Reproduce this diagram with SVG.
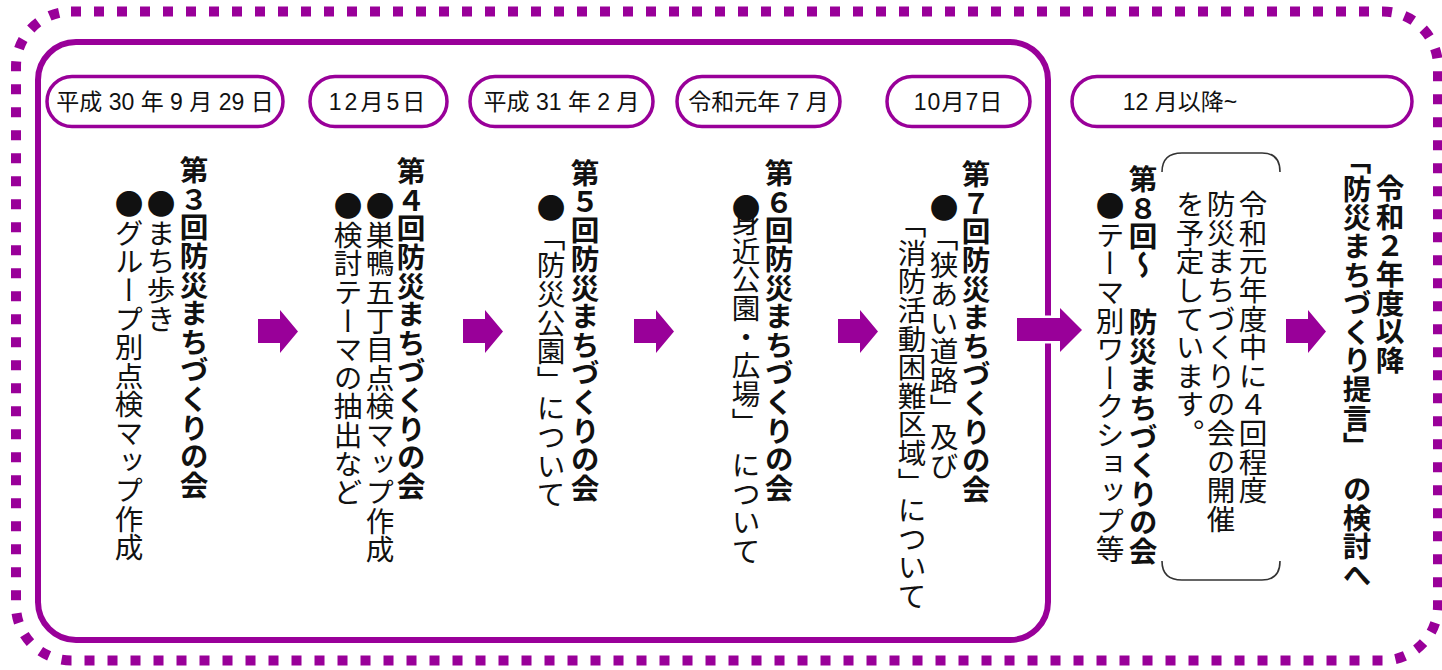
<svg xmlns="http://www.w3.org/2000/svg" width="1442" height="670" viewBox="0 0 1442 670">
<style>
.frame{fill:none;stroke:#990099}
.pill{fill:#fff;stroke:#990099;stroke-width:3.5}
.date{font-family:"Liberation Sans","Noto Sans CJK JP",sans-serif;font-size:23px;fill:#111;text-anchor:middle}
.v{font-family:"Noto Sans CJK JP",sans-serif;font-size:28.6px;fill:#111;writing-mode:vertical-rl}
.b{font-weight:bold}
.arrow{fill:#990099}
.brk{fill:none;stroke:#333;stroke-width:1.6}
</style>
<rect class="frame" x="16" y="11.5" width="1422" height="649" rx="55" stroke-width="10" stroke-dasharray="10 13"/>
<rect class="frame" x="38" y="42" width="1010" height="598" rx="38" stroke-width="6"/>
<g id="connectors">
<path class="arrow" d="M258,319 H280 V310 L298,331.5 L280,353 V343 H258 Z"/>
<path class="arrow" d="M463,319 H485 V310 L503,331.5 L485,353 V343 H463 Z"/>
<path class="arrow" d="M634,319 H656 V310 L674,331.5 L656,353 V343 H634 Z"/>
<path class="arrow" d="M838,319 H860 V310 L878,331.5 L860,353 V343 H838 Z"/>
<path class="arrow" d="M1017,318 H1060 V308 L1082,330 L1060,352 V341 H1017 Z" stroke="#fff" stroke-width="5" paint-order="stroke"/>
<path class="arrow" d="M1286,319 H1308 V310 L1326,331.5 L1308,353 V343 H1286 Z"/>
</g>
<g id="date1"><rect class="pill" x="47" y="76.5" width="236" height="50" rx="25"/><text class="date" x="165" y="110">平成 30 年 9 月 29 日</text></g>
<g id="date2"><rect class="pill" x="310" y="76.5" width="137" height="50" rx="25"/><text class="date" x="378.5" y="110" letter-spacing="3">12月5日</text></g>
<g id="date3"><rect class="pill" x="470" y="76.5" width="183" height="50" rx="25"/><text class="date" x="561.5" y="110">平成 31 年 2 月</text></g>
<g id="date4"><rect class="pill" x="677" y="76.5" width="163" height="50" rx="25"/><text class="date" x="758.5" y="110">令和元年 7 月</text></g>
<g id="date5"><rect class="pill" x="887" y="76.5" width="143" height="50" rx="25"/><text class="date" x="958.5" y="110" letter-spacing="1">10月7日</text></g>
<g id="date6"><rect class="pill" x="1072" y="76.5" width="340" height="50" rx="25"/><text class="date" x="1180" y="110">12 月以降~</text></g>
<g id="meeting3">
<text class="v b" x="194" y="156">第３回防災まちづくりの会</text>
<text class="v" x="161" y="190">●まち歩き</text>
<text class="v" x="129" y="190">●グループ別点検マップ作成</text>
</g>
<g id="meeting4">
<text class="v b" x="411" y="157">第４回防災まちづくりの会</text>
<text class="v" x="380" y="192">●巣鴨五丁目点検マップ作成</text>
<text class="v" x="348" y="192">●検討テーマの抽出など</text>
</g>
<g id="meeting5">
<text class="v b" x="585" y="159">第５回防災まちづくりの会</text>
<text class="v" x="551" y="194">●「防災公園」について</text>
</g>
<g id="meeting6">
<text class="v b" x="779" y="159">第６回防災まちづくりの会</text>
<text class="v" x="746" y="194">●</text>
<text class="v" x="746" y="208">身近公園・広場」　について</text>
</g>
<g id="meeting7">
<text class="v b" x="976" y="160">第７回防災まちづくりの会</text>
<text class="v" x="944" y="194">●「狭あい道路」及び</text>
<text class="v" x="912" y="210">「消防活動困難区域」について</text>
</g>
<g id="meeting8">
<text class="v b" x="1143" y="165">第８回〜　防災まちづくりの会</text>
<text class="v" x="1110" y="192">●テーマ別ワークショップ等</text>
</g>
<g id="note">
<path class="brk" d="M1162,172 Q1162,153 1182,153 L1262,153 Q1280,153 1280,172"/>
<path class="brk" d="M1162,561 Q1162,580 1182,580 L1262,580 Q1280,580 1280,561"/>
<text class="v" x="1253" y="190">令和元年度中に４回程度</text>
<text class="v" x="1221" y="190">防災まちづくりの会の開催</text>
<text class="v" x="1190" y="190">を予定しています。</text>
</g>
<g id="future">
<text class="v b" x="1390" y="174">令和２年度以降</text>
<text class="v b" x="1357" y="146">「防災まちづくり提言」　の検討へ</text>
</g>
</svg>
